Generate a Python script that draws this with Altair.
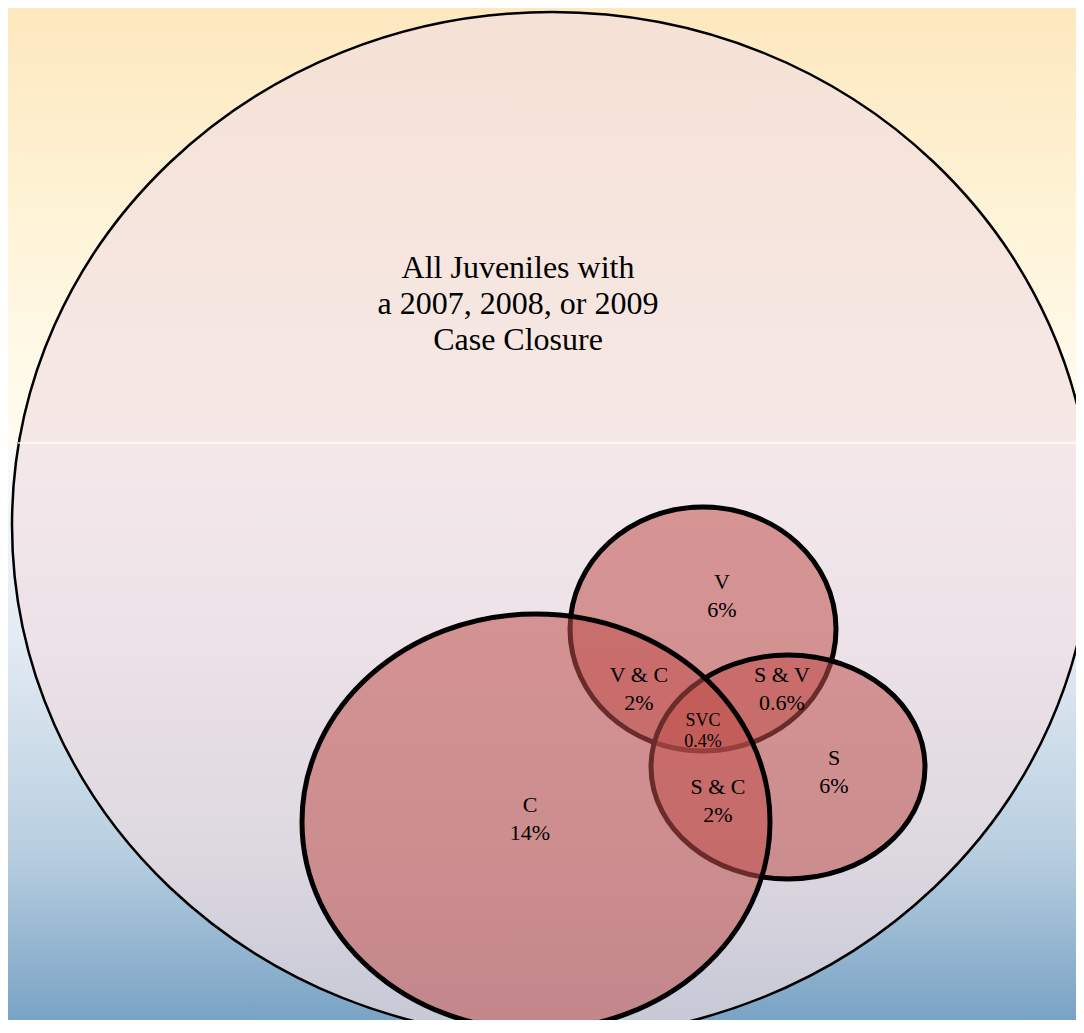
import altair as alt
import pandas as pd

PAGE_W, PAGE_H = 1084, 1033
M = 8
W = PAGE_W - 2 * M      # plot width that fits inside the page margins
H = 1012                # plot height that fits inside the page margins

# Venn sets (ellipse centre and radii, page-pixel units)
set_names = ["All juveniles", "V", "S", "C"]
set_cx = [552, 703, 788, 536]
set_cy = [525, 629, 767, 822]
set_rx = [540, 133, 137, 234]
set_ry = [513, 122, 112, 208]

# Region labels (y = centre of the first line)
region_labels = ["V\n6%", "V & C\n2%", "S & V\n0.6%", "S\n6%", "S & C\n2%", "C\n14%"]
region_x = [722, 639, 782, 834, 718, 530]
region_y = [582, 675, 675, 758, 787, 805]

core_labels = ["SVC\n0.4%"]
core_x = [703]
core_y = [721]

title_labels = ["All Juveniles with\na 2007, 2008, or 2009\nCase Closure"]
title_x = [518]
title_y = [268]

seam_y = [443]
seam_x = [18]
seam_x2 = [1084]


def ellipse_shape(rx, ry):
    k = ry / rx
    return f"M -1 0 A 1 {k:.5f} 0 1 0 1 0 A 1 {k:.5f} 0 1 0 -1 0 Z"


sets = pd.DataFrame({"name": set_names, "cx": set_cx, "cy": set_cy,
                     "rx": set_rx, "ry": set_ry})
sets["shape"] = [ellipse_shape(a, b) for a, b in zip(set_rx, set_ry)]
sets["size"] = [(2 * a) ** 2 for a in set_rx]

outer = sets.iloc[:1]
inner = sets.iloc[1:]

regions = pd.DataFrame({"label": region_labels, "x": region_x, "y": region_y})
core = pd.DataFrame({"label": core_labels, "x": core_x, "y": core_y})
title = pd.DataFrame({"label": title_labels, "x": title_x, "y": title_y})
seam = pd.DataFrame({"x": seam_x, "x2": seam_x2, "y": seam_y})

xs = alt.Scale(domain=[M, M + W], nice=False, zero=False, clamp=False)
ys = alt.Scale(domain=[M + H, M], nice=False, zero=False)

gradient = {
    "gradient": "linear", "x1": 0, "x2": 0, "y1": 0, "y2": 1,
    "stops": [
        {"offset": 0.0, "color": "#fde8bf"},
        {"offset": 0.2, "color": "#fef3d6"},
        {"offset": 0.42, "color": "#fffcf0"},
        {"offset": 0.46, "color": "#f6f9fd"},
        {"offset": 0.63, "color": "#e2eaf3"},
        {"offset": 0.83, "color": "#b9cfe0"},
        {"offset": 1.0, "color": "#79a3c5"},
    ],
}

bg = alt.Chart(alt.Data(values=[{"a": 1}])).mark_rect(color=gradient).encode(
    x=alt.value(0), x2=alt.value(W), y=alt.value(0), y2=alt.value(H)
)


def ellipse_layer(df, fill, fill_opacity, stroke_width):
    return alt.Chart(df).mark_point(
        filled=True, fill=fill, fillOpacity=fill_opacity, stroke="black",
        strokeWidth=stroke_width, opacity=1
    ).encode(
        x=alt.X("cx:Q", scale=xs, axis=None),
        y=alt.Y("cy:Q", scale=ys, axis=None),
        shape=alt.Shape("shape:N", scale=None, legend=None),
        size=alt.Size("size:Q", scale=None, legend=None),
    )


outer_layer = ellipse_layer(outer, "#f1dde1", 0.65, 2.5)
inner_layer = ellipse_layer(inner, "#c0504d", 0.55, 5)

seam_layer = alt.Chart(seam).mark_rule(color="white", strokeWidth=1.5, opacity=0.9).encode(
    x=alt.X("x:Q", scale=xs, axis=None),
    x2="x2:Q",
    y=alt.Y("y:Q", scale=ys, axis=None),
)


def text_layer(df, size, line_height):
    return alt.Chart(df).mark_text(
        font="Liberation Serif", fontSize=size, lineBreak="\n",
        lineHeight=line_height, align="center", baseline="middle", color="black"
    ).encode(
        x=alt.X("x:Q", scale=xs, axis=None),
        y=alt.Y("y:Q", scale=ys, axis=None),
        text="label:N",
    )


chart = alt.layer(
    bg,
    outer_layer,
    seam_layer,
    inner_layer,
    text_layer(title, 32, 36),
    text_layer(regions, 22, 28),
    text_layer(core, 18, 21),
).properties(
    width=W, height=H, padding=0,
    autosize=alt.AutoSizeParams(type="none"),
).configure_view(strokeWidth=0)

chart.save("out.html", embed_options={"renderer": "svg", "actions": False})
